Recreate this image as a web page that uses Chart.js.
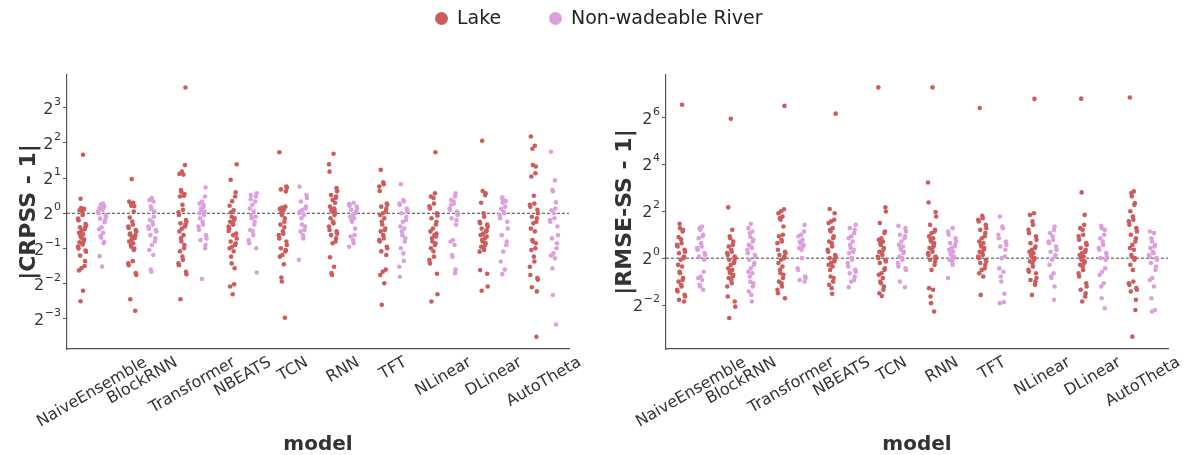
<!DOCTYPE html>
<html>
<head>
<meta charset="utf-8">
<script src="https://cdn.jsdelivr.net/npm/chart.js@4.4.1/dist/chart.umd.min.js"></script>
<style>
  html, body { margin: 0; padding: 0; background: #fff; }
  #wrap { position: relative; width: 1189px; height: 455px; overflow: hidden; font-family: 'DejaVu Sans', sans-serif; }
  .panel { position: absolute; top: 0; height: 455px; }
  #legend { position: absolute; top: 0; left: 0; width: 1189px; height: 36px; }
  .dot { position: absolute; width: 13px; height: 13px; border-radius: 50%; top: 12px; }
  .lbl { position: absolute; top: 6px; font-size: 19px; color: #222; white-space: nowrap; }
</style>
</head>
<body>
<div id="wrap">
  <div class="panel" style="left:0;width:595px"><canvas id="crpss" width="595" height="455"></canvas></div>
  <div class="panel" style="left:595px;width:594px"><canvas id="rmse" width="594" height="455"></canvas></div>
  <div id="legend">
    <span class="dot" style="left:435px;background:#cd5c5c"></span><span class="lbl" style="left:457px">Lake</span>
    <span class="dot" style="left:549px;background:#dda0dd"></span><span class="lbl" style="left:571px">Non-wadeable River</span>
  </div>
</div>
<script>
const models = ['NaiveEnsemble', 'BlockRNN', 'Transformer', 'NBEATS', 'TCN', 'RNN', 'TFT', 'NLinear', 'DLinear', 'AutoTheta'];

// exponents of the base-2 tick labels
const crpssTickExps = [-3, -2, -1, 0, 1, 2, 3];
const rmseTickExps = [-2, 0, 2, 4, 6];

// |CRPSS - 1| per model, one list of sites per model
const crpssLake = [
  [3.16, 1.33, 1.11, 1.09, 1.07, 1.06, 1.035, 0.966, 0.90, 0.87, 0.81, 0.785, 0.76, 0.75, 0.73, 0.71, 0.68, 0.66, 0.64, 0.62, 0.6, 0.57, 0.565, 0.555, 0.54, 0.52, 0.5, 0.48, 0.47, 0.435, 0.39, 0.354, 0.34, 0.325, 0.218, 0.177],
  [1.96, 1.26, 1.23, 1.21, 1.16, 1.15, 1.035, 0.92, 0.85, 0.8, 0.77, 0.75, 0.72, 0.7, 0.67, 0.65, 0.616, 0.595, 0.574, 0.555, 0.536, 0.518, 0.5, 0.486, 0.66, 0.625, 0.39, 0.373, 0.36, 0.308, 0.297, 0.184, 0.147],
  [11.9, 2.58, 2.27, 2.17, 2.14, 1.58, 1.52, 1.46, 1.41, 1.39, 1.18, 1.07, 1.02, 0.966, 0.877, 0.847, 0.82, 0.8, 0.77, 0.74, 0.7, 0.65, 0.61, 0.574, 0.536, 0.503, 0.473, 0.426, 0.4, 0.373, 0.36, 0.316, 0.302, 0.184],
  [2.62, 1.93, 1.51, 1.39, 1.27, 1.16, 1.06, 1.02, 0.933, 0.908, 0.877, 0.847, 0.82, 0.8, 0.77, 0.74, 0.67, 0.61, 0.574, 0.555, 0.536, 0.518, 0.503, 0.473, 0.426, 0.373, 0.339, 0.247, 0.237, 0.203, 0.65, 0.707],
  [3.32, 1.69, 1.65, 1.6, 1.54, 1.14, 1.12, 1.09, 1.07, 1.014, 0.966, 0.908, 0.847, 0.8, 0.7, 0.67, 0.65, 0.61, 0.574, 0.536, 0.503, 0.486, 0.473, 0.44, 0.426, 0.366, 0.283, 0.261, 0.128, 0.758],
  [3.23, 2.62, 2.27, 1.64, 1.54, 1.43, 1.39, 1.35, 1.3, 1.14, 1.1, 1.07, 1.035, 1.0, 0.966, 0.908, 0.847, 0.82, 0.77, 0.72, 0.7, 0.67, 0.65, 0.61, 0.574, 0.555, 0.42, 0.349, 0.308, 0.297, 1.23, 1.06],
  [2.35, 1.84, 1.77, 1.69, 1.55, 1.21, 1.18, 1.14, 1.09, 1.035, 1.0, 0.966, 0.908, 0.847, 0.8, 0.74, 0.72, 0.7, 0.65, 0.61, 0.59, 0.574, 0.518, 0.503, 0.473, 0.44, 0.33, 0.316, 0.297, 0.252, 0.165],
  [3.32, 1.48, 1.39, 1.35, 1.21, 1.15, 1.1, 1.0, 0.953, 0.908, 0.847, 0.8, 0.74, 0.7, 0.65, 0.61, 0.574, 0.555, 0.536, 0.503, 0.473, 0.426, 0.398, 0.373, 0.304, 0.203, 0.176, 0.67, 0.633],
  [4.17, 1.55, 1.48, 1.43, 1.23, 1.0, 0.933, 0.847, 0.82, 0.8, 0.77, 0.74, 0.72, 0.7, 0.67, 0.65, 0.61, 0.59, 0.574, 0.555, 0.536, 0.518, 0.503, 0.486, 0.47, 0.327, 0.304, 0.237, 0.218, 0.633],
  [4.53, 3.78, 3.56, 2.58, 2.51, 2.2, 2.06, 1.41, 1.21, 1.18, 1.14, 1.07, 1.0, 0.933, 0.908, 0.847, 0.82, 0.74, 0.7, 0.59, 0.574, 0.555, 0.503, 0.486, 0.426, 0.387, 0.349, 0.297, 0.279, 0.27, 0.233, 0.215, 0.088]
];

const crpssRiver = [
  [1.21, 1.19, 1.16, 1.15, 1.13, 1.11, 1.09, 1.07, 1.035, 1.0, 0.966, 0.933, 0.9, 0.87, 0.84, 0.76, 0.73, 0.68, 0.64, 0.62, 0.57, 0.555, 0.43, 0.35],
  [1.35, 1.3, 1.26, 1.14, 1.09, 1.035, 0.933, 0.877, 0.847, 0.8, 0.77, 0.74, 0.72, 0.7, 0.65, 0.61, 0.574, 0.536, 0.486, 0.44, 0.33, 0.316],
  [1.66, 1.39, 1.26, 1.21, 1.14, 1.1, 1.07, 1.035, 0.966, 0.908, 0.847, 0.8, 0.77, 0.72, 0.65, 0.61, 0.59, 0.536, 0.503, 0.274, 1.0, 1.18],
  [1.48, 1.43, 1.39, 1.26, 1.18, 1.1, 1.035, 0.966, 0.908, 0.847, 0.8, 0.72, 0.7, 0.65, 0.59, 0.555, 0.503, 0.312, 1.32, 0.933],
  [1.69, 1.43, 1.35, 1.26, 1.14, 1.1, 1.07, 1.035, 0.966, 0.908, 0.8, 0.77, 0.72, 0.7, 0.65, 0.61, 0.4, 1.0],
  [1.23, 1.2, 1.16, 1.14, 1.1, 1.07, 1.035, 1.0, 0.966, 0.933, 0.908, 0.877, 0.847, 0.74, 0.65, 0.633, 0.59, 0.555, 0.518],
  [1.77, 1.3, 1.26, 1.21, 1.18, 1.1, 1.035, 1.0, 0.933, 0.877, 0.847, 0.77, 0.74, 0.7, 0.65, 0.61, 0.574, 0.503, 0.454, 0.392, 0.349, 0.287],
  [1.48, 1.39, 1.3, 1.26, 1.21, 1.1, 1.07, 1.035, 0.966, 0.908, 0.877, 0.8, 0.59, 0.574, 0.536, 0.44, 0.426, 0.33, 0.308, 1.18],
  [1.37, 1.32, 1.27, 1.14, 1.09, 1.035, 1.0, 0.966, 0.908, 0.847, 0.74, 0.65, 0.574, 0.536, 0.47, 0.387, 0.33, 0.302, 1.23],
  [3.36, 1.91, 1.58, 1.54, 1.24, 1.1, 1.06, 1.0, 0.908, 0.877, 0.847, 0.77, 0.65, 0.61, 0.555, 0.503, 0.454, 0.435, 0.412, 0.339, 0.2, 0.112]
];

// |RMSE-SS - 1| per model
const rmseLake = [
  [93.7, 2.77, 2.43, 2.3, 2.2, 1.87, 1.75, 1.56, 1.48, 1.41, 1.28, 1.21, 1.16, 1.05, 1.0, 0.953, 0.82, 0.78, 0.67, 0.64, 0.555, 0.525, 0.5, 0.454, 0.432, 0.392, 0.373, 0.337, 0.321, 0.291, 0.277],
  [61.8, 4.5, 2.31, 1.91, 1.8, 1.64, 1.48, 1.41, 1.28, 1.21, 1.16, 1.1, 1.05, 1.0, 0.953, 0.908, 0.865, 0.82, 0.74, 0.707, 0.67, 0.64, 0.61, 0.58, 0.555, 0.525, 0.476, 0.432, 0.321, 0.277, 0.238, 0.17],
  [90.5, 4.26, 4.0, 3.78, 3.43, 3.27, 3.12, 2.55, 2.0, 1.91, 1.72, 1.64, 1.56, 1.28, 1.21, 1.16, 1.1, 1.05, 1.0, 0.953, 0.865, 0.78, 0.707, 0.64, 0.61, 0.555, 0.5, 0.476, 0.432, 0.392, 0.354, 0.306],
  [72.0, 4.29, 3.78, 3.12, 2.97, 2.83, 2.43, 2.31, 2.2, 1.91, 1.8, 1.64, 1.56, 1.41, 1.28, 1.21, 1.1, 1.05, 1.0, 0.953, 0.908, 0.865, 0.82, 0.78, 0.707, 0.58, 0.555, 0.5, 0.454, 0.412, 0.349],
  [156.5, 4.5, 3.97, 2.83, 2.2, 2.1, 1.8, 1.72, 1.64, 1.56, 1.48, 1.35, 1.28, 1.21, 1.16, 1.1, 1.05, 1.0, 0.953, 0.908, 0.865, 0.74, 0.707, 0.64, 0.61, 0.555, 0.5, 0.476, 0.432, 0.392, 0.354, 0.327],
  [156.5, 9.38, 5.2, 3.92, 3.43, 2.68, 2.31, 2.2, 2.1, 1.91, 1.8, 1.72, 1.64, 1.56, 1.41, 1.35, 1.28, 1.21, 1.16, 1.1, 1.05, 1.0, 0.953, 0.908, 0.82, 0.707, 0.412, 0.392, 0.321, 0.264, 0.206, 1.48],
  [85.0, 3.5, 3.27, 3.12, 2.97, 2.68, 2.43, 2.31, 2.1, 1.91, 1.8, 1.64, 1.56, 1.48, 1.41, 1.35, 1.28, 1.21, 1.16, 1.1, 1.05, 1.0, 0.953, 0.908, 0.865, 0.82, 0.74, 0.707, 0.64, 0.58, 0.337],
  [111.4, 3.78, 3.6, 2.97, 2.68, 2.31, 2.1, 1.91, 1.72, 1.56, 1.41, 1.35, 1.28, 1.21, 1.16, 1.1, 1.05, 1.0, 0.953, 0.908, 0.865, 0.78, 0.707, 0.67, 0.64, 0.555, 0.525, 0.5, 0.454, 0.337],
  [112.2, 7.0, 3.6, 2.68, 2.43, 2.31, 2.0, 1.91, 1.72, 1.56, 1.48, 1.35, 1.28, 1.21, 1.16, 1.1, 1.05, 1.0, 0.953, 0.908, 0.865, 0.82, 0.78, 0.707, 0.64, 0.58, 0.476, 0.432, 0.392, 0.354, 0.321, 0.277],
  [116.2, 7.21, 6.87, 6.23, 5.1, 4.86, 4.0, 3.43, 3.12, 2.97, 2.68, 2.43, 2.2, 2.0, 1.8, 1.64, 1.48, 1.35, 1.28, 1.1, 1.05, 1.0, 0.953, 0.82, 0.707, 0.5, 0.476, 0.454, 0.412, 0.392, 0.373, 0.291, 0.216, 0.098]
];

const rmseRiver = [
  [2.55, 2.43, 2.31, 2.0, 1.91, 1.8, 1.56, 1.41, 1.35, 1.28, 1.16, 1.1, 1.05, 0.953, 0.67, 0.58, 0.555, 0.525, 0.454, 0.432, 0.392],
  [2.77, 2.43, 2.2, 2.1, 1.87, 1.72, 1.64, 1.48, 1.41, 1.35, 1.28, 1.16, 1.1, 1.05, 0.953, 0.865, 0.82, 0.74, 0.67, 0.64, 0.58, 0.5, 0.476, 0.432, 0.373, 0.337, 0.277],
  [2.68, 2.2, 2.0, 1.91, 1.72, 1.64, 1.56, 1.48, 1.41, 1.35, 1.28, 1.0, 0.74, 0.707, 0.58, 0.555, 0.525, 0.5],
  [2.68, 2.43, 2.31, 2.1, 1.91, 1.8, 1.64, 1.48, 1.35, 1.28, 1.21, 1.16, 1.0, 0.953, 0.865, 0.78, 0.707, 0.67, 0.64, 0.58, 0.525, 0.5, 0.423],
  [2.6, 2.43, 2.2, 2.0, 1.91, 1.8, 1.64, 1.48, 1.41, 1.35, 1.28, 1.21, 1.16, 1.05, 1.0, 0.953, 0.865, 0.78, 0.74, 0.707, 0.5, 0.423],
  [2.43, 2.2, 2.0, 1.8, 1.64, 1.56, 1.48, 1.41, 1.35, 1.28, 1.21, 1.16, 1.1, 1.05, 1.0, 0.953, 0.908, 0.82, 0.555],
  [3.43, 2.55, 2.43, 2.0, 1.8, 1.64, 1.48, 1.41, 1.28, 1.05, 1.0, 0.74, 0.67, 0.58, 0.5, 0.349, 0.272, 0.264],
  [2.55, 2.31, 2.1, 1.91, 1.72, 1.64, 1.56, 1.41, 1.28, 1.21, 1.1, 1.05, 0.953, 0.82, 0.64, 0.58, 0.555, 0.432, 0.291],
  [2.6, 2.43, 2.31, 2.0, 1.8, 1.64, 1.48, 1.35, 1.28, 1.16, 1.05, 1.0, 0.953, 0.74, 0.67, 0.61, 0.476, 0.432, 0.306, 0.227],
  [2.2, 2.1, 1.8, 1.64, 1.48, 1.41, 1.35, 1.21, 1.16, 1.1, 1.05, 1.0, 0.953, 0.865, 0.78, 0.707, 0.555, 0.525, 0.432, 0.306, 0.206, 0.216]
];

const LAKE = '#cd5c5c';
const RIVER = '#dda0dd';
const INK = '#333';
const SPINE = '#555';
const FONT = "'DejaVu Sans', sans-serif";

// fixed sideways spread inside each strip
const JITTER = [0.02, -0.05, 0.07, -0.01, 0.04, -0.08, 0.06, -0.03, 0.0, 0.08, -0.06, 0.03, -0.07, 0.05, -0.02, 0.01, -0.04];

function stripPoints(series, side) {
  const pts = [];
  series.forEach((vals, i) => {
    vals.forEach((v, k) => {
      pts.push({ x: i + side + JITTER[(k * 7 + i * 3) % JITTER.length], y: v });
    });
  });
  return pts;
}

// tick labels, rotated model names and axis titles
const axisText = {
  id: 'axisText',
  afterDraw(chart, args, opts) {
    const ctx = chart.ctx;
    const xs = chart.scales.x, ys = chart.scales.y;
    const area = chart.chartArea;
    ctx.save();
    ctx.fillStyle = INK;

    // y ticks: 2 with a raised exponent
    opts.tickExps.forEach(p => {
      const y = ys.getPixelForValue(Math.pow(2, p));
      const right = area.left - 6;
      const exp = p < 0 ? '\u2212' + Math.abs(p) : String(p);
      ctx.font = '11px ' + FONT;
      ctx.textAlign = 'right';
      ctx.textBaseline = 'alphabetic';
      const ew = ctx.measureText(exp).width;
      ctx.fillText(exp, right, y - 3);
      ctx.font = '16px ' + FONT;
      ctx.fillText('2', right - ew - 0.5, y + 6);
    });

    // model names, rotated 30 degrees and centred under each tick
    ctx.font = '16px ' + FONT;
    ctx.textAlign = 'center';
    ctx.textBaseline = 'middle';
    const ang = Math.PI / 6;
    models.forEach((m, i) => {
      const x = xs.getPixelForValue(i);
      const w = ctx.measureText(m).width;
      const bh = w * Math.sin(ang) + 17 * Math.cos(ang);
      ctx.save();
      ctx.translate(x, area.bottom + 5 + bh / 2);
      ctx.rotate(-ang);
      ctx.fillText(m, 0, 0);
      ctx.restore();
    });

    // axis titles
    ctx.font = 'bold 20px ' + FONT;
    ctx.textAlign = 'center';
    ctx.textBaseline = 'alphabetic';
    ctx.fillText('model', (area.left + area.right) / 2, 450);
    ctx.save();
    ctx.font = 'bold 22px ' + FONT;
    ctx.translate(opts.titleX, (area.top + area.bottom) / 2);
    ctx.rotate(-Math.PI / 2);
    ctx.textBaseline = 'middle';
    ctx.fillText(opts.title, 0, 0);
    ctx.restore();

    ctx.restore();
  }
};

function makePanel(id, lake, river, yMin, yMax, tickExps, title, titleX, leftW, rightPad) {
  return new Chart(document.getElementById(id), {
    type: 'scatter',
    data: {
      datasets: [
        { label: 'Lake', data: stripPoints(lake, -0.2), backgroundColor: LAKE, borderWidth: 0, pointRadius: 2.3 },
        { label: 'Non-wadeable River', data: stripPoints(river, 0.2), backgroundColor: RIVER, borderWidth: 0, pointRadius: 2.3 },
        {
          label: 'ref', data: [{ x: -0.5, y: 1 }, { x: 9.5, y: 1 }], showLine: true,
          borderColor: '#444', borderWidth: 1, borderDash: [3, 2], pointRadius: 0
        }
      ]
    },
    options: {
      responsive: false,
      animation: false,
      events: [],
      layout: { padding: { top: 75, right: rightPad, left: 0, bottom: 0 } },
      plugins: {
        legend: { display: false },
        tooltip: { enabled: false },
        axisText: { tickExps: tickExps, title: title, titleX: titleX }
      },
      scales: {
        x: {
          type: 'linear', min: -0.5, max: 9.5,
          grid: { display: false },
          border: { display: true, color: SPINE, width: 1.2 },
          ticks: { display: false },
          afterFit: s => { s.height = 106; }
        },
        y: {
          type: 'logarithmic', min: yMin, max: yMax,
          afterBuildTicks: s => { s.ticks = tickExps.map(p => ({ value: Math.pow(2, p) })); },
          grid: { display: true, drawOnChartArea: false, drawTicks: true, tickLength: 4, color: SPINE, lineWidth: 1 },
          border: { display: true, color: SPINE, width: 1.2 },
          ticks: { display: false },
          afterFit: s => { s.width = leftW; }
        }
      }
    },
    plugins: [axisText]
  });
}

makePanel('crpss', crpssLake, crpssRiver, 0.0692, 15.2, crpssTickExps, '|CRPSS - 1|', 29, 67, 26);
makePanel('rmse', rmseLake, rmseRiver, 0.068, 226, rmseTickExps, '|RMSE-SS - 1|', 30, 71, 21);
</script>
</body>
</html>
